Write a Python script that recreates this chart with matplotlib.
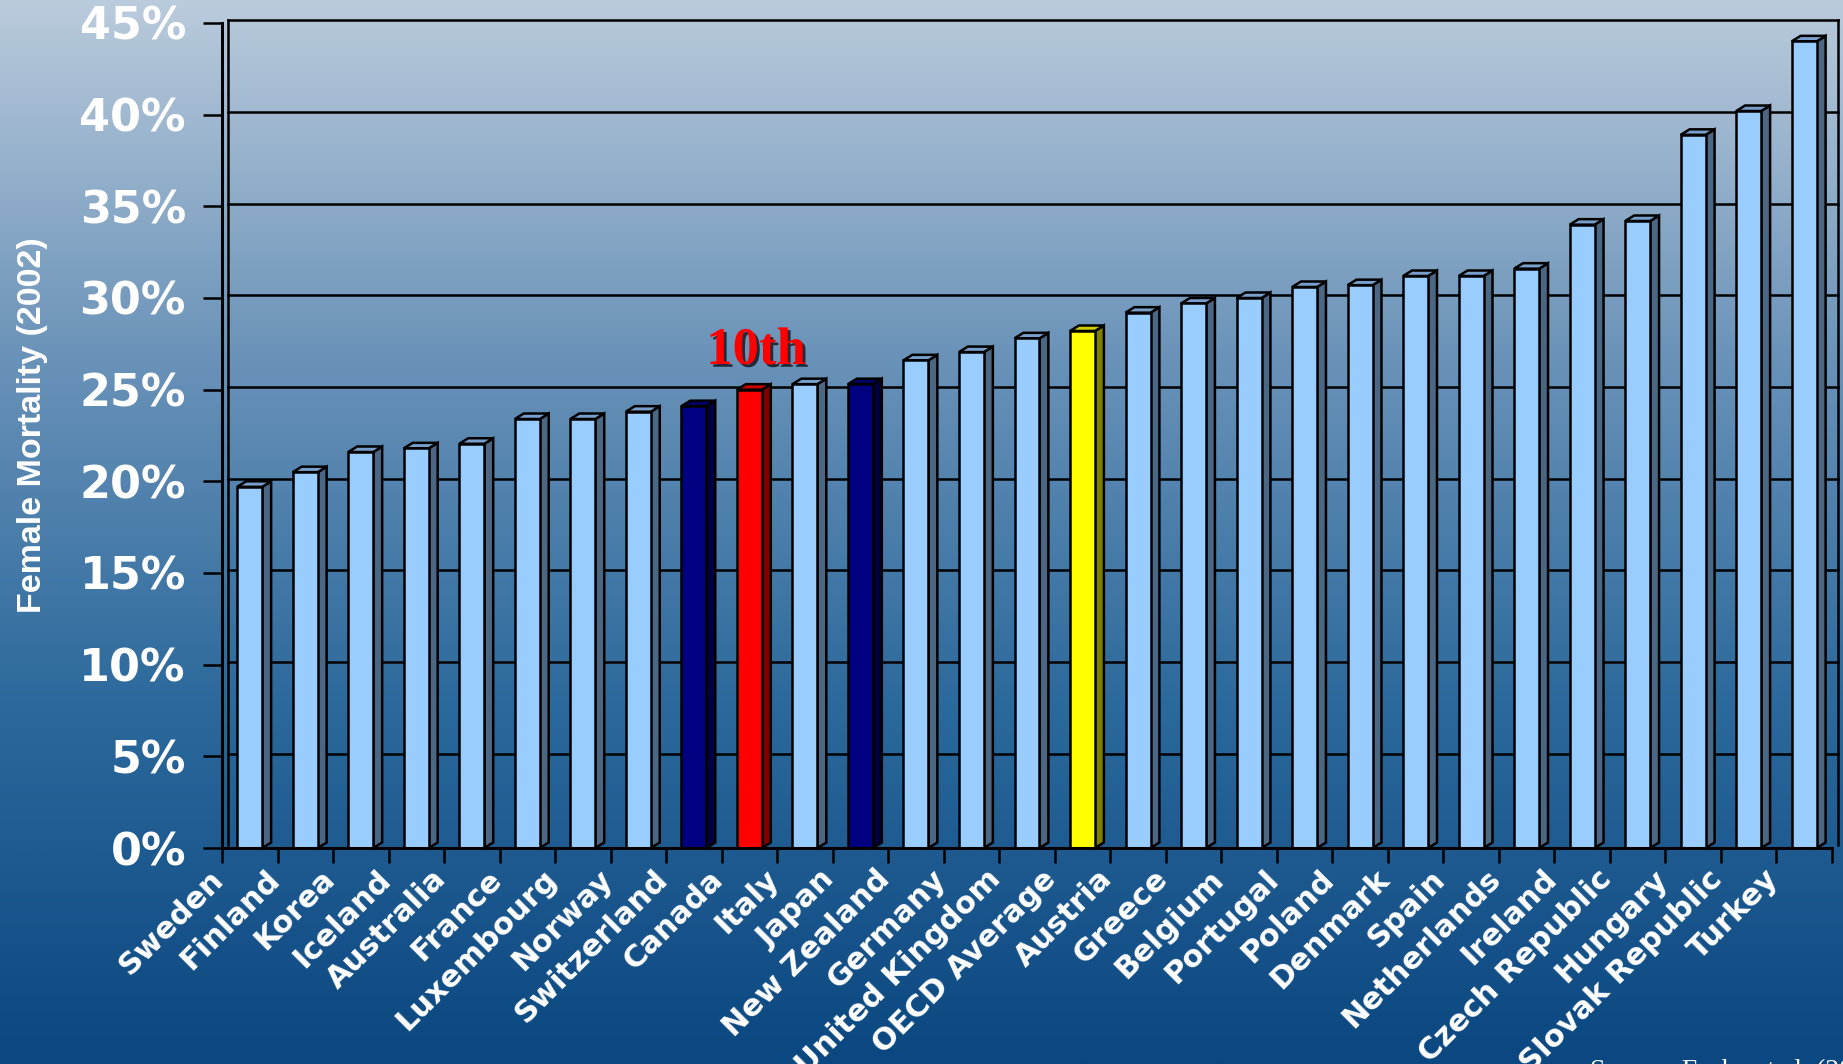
import numpy as np
import matplotlib.pyplot as plt
from matplotlib.patches import Polygon, Rectangle
from matplotlib.colors import LinearSegmentedColormap
import matplotlib.patheffects as pe

# female mortality by country, 2002 (share, %)
countries = ["Sweden", "Finland", "Korea", "Iceland", "Australia", "France",
             "Luxembourg", "Norway", "Switzerland", "Canada", "Italy", "Japan",
             "New Zealand", "Germany", "United Kingdom", "OECD Average", "Austria",
             "Greece", "Belgium", "Portugal", "Poland", "Denmark", "Spain",
             "Netherlands", "Ireland", "Czech Republic", "Hungary",
             "Slovak Republic", "Turkey"]
mortality = [19.7, 20.5, 21.6, 21.8, 22.05, 23.4,
             23.4, 23.8, 24.1, 25.0, 25.3, 25.3,
             26.6, 27.05, 27.8, 28.2, 29.2,
             29.7, 30.0, 30.6, 30.7, 31.2, 31.2,
             31.6, 34.0, 34.2, 38.9,
             40.2, 44.0]
yticks = [0, 5, 10, 15, 20, 25, 30, 35, 40, 45]

navy_bars = ["Switzerland", "Japan"]
red_bars = ["Canada"]
yellow_bars = ["OECD Average"]


def bar_colours(name):
    # front, side, top
    if name in navy_bars:
        return "#000080", "#000040", "#000066"
    if name in red_bars:
        return "#ff0000", "#800000", "#cc0000"
    if name in yellow_bars:
        return "#ffff00", "#808000", "#cccc00"
    return "#99ccff", "#4c6784", "#789fcb"


W, H = 1843, 1064
fig = plt.figure(figsize=(W / 100, H / 100), dpi=100)

# background gradient
bg = fig.add_axes([0, 0, 1, 1], zorder=-10)
cmap = LinearSegmentedColormap.from_list(
    "bg", [(0.0, "#bacbdc"), (0.33, "#6b93b9"), (0.66, "#2c699c"), (1.0, "#0b4780")])
bg.imshow(np.linspace(0, 1, 512).reshape(-1, 1), aspect="auto", cmap=cmap,
          extent=[0, 1, 0, 1])
bg.axis("off")

ax = fig.add_axes([222 / W, 1 - 848 / H, (1832 - 222) / W, (848 - 23) / H])
ax.set_facecolor("none")
ax.set_xlim(-0.5, 28.5)
ax.set_ylim(0, 45)

lw = 1.8
bw = 0.45
dx, dy = 0.16, 0.3

# back wall and gridlines
wx0, wx1 = -0.5 + 0.1, 28.6
for g in yticks[1:]:
    ax.plot([wx0, wx1], [g + 0.15, g + 0.15], color="k", lw=lw, zorder=1, clip_on=False)
ax.plot([wx0, wx0], [0.15, 45.15], color="k", lw=lw, zorder=1, clip_on=False)
ax.plot([wx1, wx1], [0.15, 45.15], color="k", lw=lw, zorder=1, clip_on=False)

for i, (name, v) in enumerate(zip(countries, mortality)):
    front, side, top = bar_colours(name)
    x0 = i - bw / 2
    x1 = x0 + bw
    ax.add_patch(Polygon([(x1, 0), (x1 + dx, dy), (x1 + dx, v + dy), (x1, v)],
                         fc=side, ec="k", lw=lw, zorder=3, clip_on=False))
    ax.add_patch(Polygon([(x0, v), (x1, v), (x1 + dx, v + dy), (x0 + dx, v + dy)],
                         fc=top, ec="k", lw=lw, zorder=3, clip_on=False))
    ax.add_patch(Rectangle((x0, 0), bw, v, fc=front, ec="k", lw=lw, zorder=4))
    ax.text(i - 0.55, -1.45, name, rotation=45, rotation_mode="anchor",
            ha="right", va="center", fontsize=22, fontweight="bold",
            color="white", family="DejaVu Sans", clip_on=False)

for s in ["top", "right"]:
    ax.spines[s].set_visible(False)
for s in ["left", "bottom"]:
    ax.spines[s].set_color("k")
    ax.spines[s].set_linewidth(2.2)
    ax.spines[s].set_zorder(5)

ax.set_yticks(yticks)
ax.set_yticklabels([f"{t}%" for t in yticks], fontsize=32, fontweight="bold",
                   color="white", family="DejaVu Sans")
ax.tick_params(axis="y", direction="out", length=14, width=lw, color="k", pad=12)
ax.set_xticks([])
ax.set_xticks(np.arange(-0.5, 29, 1), minor=True)
ax.tick_params(axis="x", which="minor", direction="out", length=11, width=lw, color="k")

fig.text(33 / W, 1 - 425 / H, "Female Mortality (2002)", rotation=90,
         color="white", fontsize=24.5, fontweight="bold", family="Liberation Sans",
         ha="center", va="center")

ax.text(9.12, 26.4, "10th", family="Liberation Serif", fontweight="bold",
        fontsize=38, color="#ff0000", ha="center", va="baseline", zorder=6,
        path_effects=[pe.withSimplePatchShadow(offset=(2, -2), shadow_rgbFace="k", alpha=0.7)])

fig.text(1590 / W, 1 - 1059 / H, "Source: Esche et al. (2005)", family="Liberation Serif",
         fontsize=20, color="white", ha="left", va="top")

fig.savefig("out.png", dpi=100)
